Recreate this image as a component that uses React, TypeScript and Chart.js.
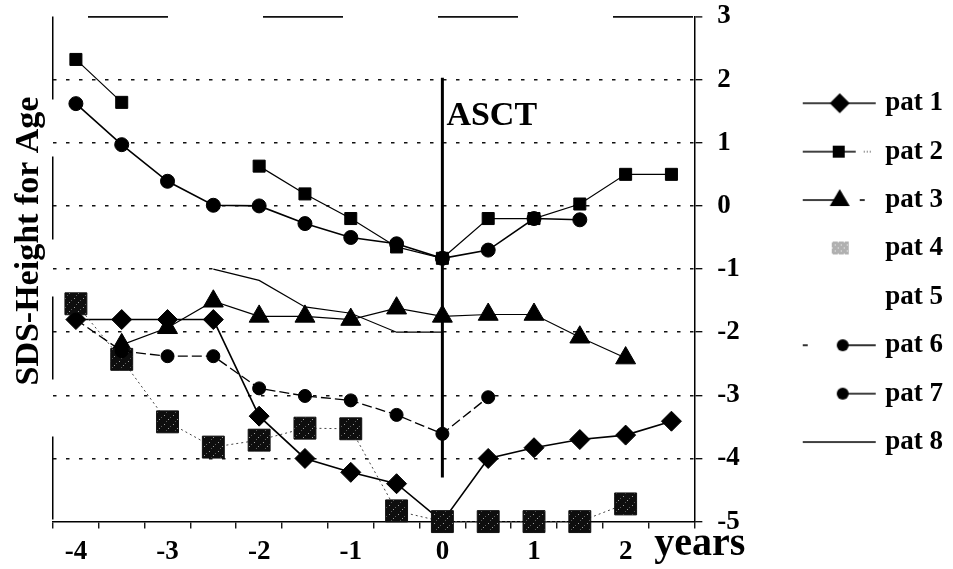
import React, { useEffect, useRef } from 'react';
import { Chart, registerables } from 'chart.js';

Chart.register(...registerables);

// ---------- data ----------
const CATEGORIES = ['-4', '-3.5', '-3', '-2.5', '-2', '-1.5', '-1', '-0.5', '0', '0.5', '1', '1.5', '2', '2.5'];
const SERIES_NAMES = ['pat 1', 'pat 2', 'pat 3', 'pat 4', 'pat 5', 'pat 6', 'pat 7', 'pat 8'];

const PAT1 = [-1.8, -1.8, -1.8, -1.8, -3.33, -4.0, -4.22, -4.4, -5.0, -4.0, -3.83, -3.7, -3.63, -3.41];
const PAT2 = [2.32, 1.64, null, null, 0.63, 0.19, -0.2, -0.65, -0.83, -0.2, -0.2, 0.03, 0.5, 0.5];
const PAT3 = [null, -2.2, -1.93, -1.51, -1.75, -1.75, -1.8, -1.62, -1.75, -1.72, -1.72, -2.08, -2.41, null];
const PAT4 = [-1.55, -2.43, -3.42, -3.82, -3.71, -3.52, -3.53, -4.83, -5.0, -5.0, -5.0, -5.0, -4.72, null];
const PAT5 = [null, null, null, null, null, null, null, null, null, null, null, null, null, null];
const PAT6 = [-1.8, -2.3, -2.38, -2.38, -2.89, -3.01, -3.08, -3.31, -3.61, -3.03, null, null, null, null];
const PAT7 = [1.62, 0.97, 0.39, 0.01, 0.0, -0.28, -0.5, -0.6, -0.83, -0.7, -0.2, -0.22, null, null];
const PAT8 = [null, null, null, -1.0, -1.18, -1.6, -1.7, -2.0, -2.0, null, null, null, null, null];

const Y_MIN = -5;
const Y_MAX = 3;
const ASCT_CATEGORY = '0';
const ASCT_TOP = 2.03;
const ASCT_BOTTOM = -4.3;
const ASCT_LABEL = 'ASCT';
const ASCT_LABEL_Y = 1.28;
const Y_TITLE = 'SDS-Height for Age';
const X_TITLE = 'years';

const FONT = "'Liberation Serif', 'Times New Roman', serif";

function makeGlyph(kind: number): HTMLCanvasElement {
  const c = document.createElement('canvas');
  c.width = 76;
  c.height = 30;
  const g = c.getContext('2d') as CanvasRenderingContext2D;
  const cy = 15;
  g.strokeStyle = '#000';
  g.fillStyle = '#000';
  g.lineWidth = 1.6;
  const line = (a: number, b: number, dash: number[] = []) => {
    g.setLineDash(dash);
    g.beginPath();
    g.moveTo(a, cy);
    g.lineTo(b, cy);
    g.stroke();
    g.setLineDash([]);
  };
  const circle = (x: number, r: number) => {
    g.beginPath();
    g.arc(x, cy, r, 0, Math.PI * 2);
    g.fill();
  };
  switch (kind) {
    case 0: {
      line(1, 74);
      g.beginPath();
      g.moveTo(38, cy - 10);
      g.lineTo(48, cy);
      g.lineTo(38, cy + 10);
      g.lineTo(28, cy);
      g.closePath();
      g.fill();
      break;
    }
    case 1: {
      line(1, 54);
      g.fillRect(31, cy - 6, 12, 12);
      g.lineWidth = 1;
      line(62, 70, [1, 2]);
      break;
    }
    case 2: {
      line(1, 36);
      g.beginPath();
      g.moveTo(38, cy - 11);
      g.lineTo(48, cy + 6);
      g.lineTo(28, cy + 6);
      g.closePath();
      g.fill();
      line(58, 63);
      break;
    }
    case 3: {
      g.fillStyle = '#b0b0b0';
      g.fillRect(30, cy - 7, 17, 13);
      g.fillStyle = '#fff';
      for (let i = 0; i < 17; i += 3) {
        for (let j = 0; j < 13; j += 3) {
          if ((i + j) % 2 === 0) g.fillRect(30 + i, cy - 7 + j, 1, 1);
        }
      }
      break;
    }
    case 4:
      break;
    case 5: {
      line(1, 6);
      circle(41, 6);
      line(46, 74);
      break;
    }
    case 6: {
      circle(41, 6);
      line(41, 74);
      break;
    }
    default: {
      g.lineWidth = 1.3;
      line(1, 74);
    }
  }
  return c;
}

function makeStipple(): CanvasPattern | string {
  const pc = document.createElement('canvas');
  pc.width = 9;
  pc.height = 9;
  const pg = pc.getContext('2d') as CanvasRenderingContext2D;
  pg.fillStyle = '#0e0e0e';
  pg.fillRect(0, 0, 9, 9);
  pg.fillStyle = '#a0a0a0';
  pg.fillRect(2, 1, 1, 1);
  pg.fillRect(6, 5, 1, 1);
  pg.fillStyle = '#5a5a5a';
  pg.fillRect(4, 7, 1, 1);
  pg.fillRect(8, 3, 1, 1);
  const p = pg.createPattern(pc, 'repeat');
  return p || '#0e0e0e';
}

const annotationPlugin = {
  id: 'annotations',
  beforeDatasetsDraw(chart: any) {
    const { ctx } = chart;
    const xs = chart.scales.x;
    const ys = chart.scales.y;
    const px = xs.getPixelForValue(CATEGORIES.indexOf(ASCT_CATEGORY));
    ctx.save();
    ctx.strokeStyle = '#000';
    ctx.lineWidth = 3;
    ctx.beginPath();
    ctx.moveTo(px, ys.getPixelForValue(ASCT_TOP));
    ctx.lineTo(px, ys.getPixelForValue(ASCT_BOTTOM));
    ctx.stroke();
    ctx.restore();
  },
  afterDraw(chart: any) {
    const { ctx, chartArea } = chart;
    const xs = chart.scales.x;
    const ys = chart.scales.y;
    const px = xs.getPixelForValue(CATEGORIES.indexOf(ASCT_CATEGORY));
    ctx.save();
    ctx.fillStyle = '#000';
    ctx.font = `bold 34px ${FONT}`;
    ctx.textAlign = 'left';
    ctx.textBaseline = 'alphabetic';
    ctx.fillText(ASCT_LABEL, px + 4, ys.getPixelForValue(ASCT_LABEL_Y));

    ctx.font = `bold 40px ${FONT}`;
    ctx.fillText(X_TITLE, chartArea.right - 40, chartArea.bottom + 33);

    ctx.translate(29, (chartArea.top + chartArea.bottom) / 2 - 28);
    ctx.rotate(-Math.PI / 2);
    ctx.textAlign = 'center';
    ctx.textBaseline = 'middle';
    ctx.font = `bold 34px ${FONT}`;
    ctx.fillText(Y_TITLE, 0, 0);
    ctx.restore();
  },
};

export default function App() {
  const canvasRef = useRef<HTMLCanvasElement | null>(null);

  useEffect(() => {
    if (!canvasRef.current) return;
    const glyphs = SERIES_NAMES.map((_, i) => makeGlyph(i));
    const stipple = makeStipple();

    const base = {
      borderColor: '#000',
      pointBorderColor: '#000',
      pointBackgroundColor: '#000',
      pointBorderWidth: 1,
      tension: 0,
      spanGaps: false,
      clip: false as any,
    };

    const chart = new Chart(canvasRef.current, {
      type: 'line',
      data: {
        labels: CATEGORIES,
        datasets: [
          { ...base, label: SERIES_NAMES[0], data: PAT1, borderWidth: 1.6, pointStyle: 'rectRot', pointRadius: 10, order: 8 },
          { ...base, label: SERIES_NAMES[1], data: PAT2, borderWidth: 1.2, pointStyle: 'rect', pointRadius: 8.5, order: 7 },
          { ...base, label: SERIES_NAMES[2], data: PAT3, borderWidth: 1.2, pointStyle: 'triangle', pointRadius: 11.5, order: 6 },
          {
            ...base, label: SERIES_NAMES[3], data: PAT4, borderColor: '#444', borderWidth: 1, borderDash: [2, 3],
            pointStyle: 'rect', pointRadius: 15.5, pointBackgroundColor: stipple as any, pointBorderColor: '#111', order: 5,
          },
          { ...base, label: SERIES_NAMES[4], data: PAT5, borderWidth: 0, pointRadius: 0, order: 4 },
          { ...base, label: SERIES_NAMES[5], data: PAT6, borderWidth: 1.3, borderDash: [10, 4], pointStyle: 'circle', pointRadius: 6.5, order: 3 },
          { ...base, label: SERIES_NAMES[6], data: PAT7, borderWidth: 1.6, pointStyle: 'circle', pointRadius: 7, order: 2 },
          { ...base, label: SERIES_NAMES[7], data: PAT8, borderWidth: 1.2, pointRadius: 0, order: 1 },
        ] as any,
      },
      options: {
        animation: false,
        responsive: true,
        maintainAspectRatio: false,
        layout: { padding: { left: 53, top: 14, right: 0, bottom: -6 } },
        plugins: {
          tooltip: { enabled: false },
          legend: {
            position: 'right',
            fullSize: false,
            align: 'center',
            title: { display: true, text: '', font: { size: 1 }, padding: 3 },
            labels: {
              usePointStyle: true,
              pointStyleWidth: 64,
              padding: 21.4,
              color: '#000',
              font: { family: FONT, size: 27, weight: 'bold' },
              generateLabels: () =>
                SERIES_NAMES.map((name, i) => ({
                  text: name,
                  pointStyle: glyphs[i],
                  datasetIndex: i,
                  fontColor: '#000',
                  fillStyle: 'rgba(0,0,0,0)',
                  strokeStyle: 'rgba(0,0,0,0)',
                  lineWidth: 0,
                  hidden: false,
                })) as any,
            },
          },
        },
        scales: {
          x: {
            type: 'category',
            offset: true,
            grid: {
              offset: true,
              drawOnChartArea: true,
              color: (c: any) => (c.index === 0 ? '#000' : 'rgba(0,0,0,0)'),
              lineWidth: 1.5,
              tickColor: '#000',
              tickLength: 7,
              tickWidth: 1.3,
            },
            border: {
              display: true,
              color: '#000',
              width: 1.5,
              dash: (c: any) => (c.index === 0 ? [83, 57] : []),
            },
            ticks: {
              autoSkip: false,
              maxRotation: 0,
              padding: 7,
              color: '#000',
              font: { family: FONT, size: 27, weight: 'bold' },
              callback: (_v: any, index: number) => {
                const lab = CATEGORIES[index];
                return lab.includes('.') ? '' : lab;
              },
            },
          },
          y: {
            type: 'linear',
            position: 'right',
            min: Y_MIN,
            max: Y_MAX,
            afterFit: (scale: any) => {
              scale.width = 92;
              scale.paddingTop = 0;
              scale.paddingBottom = 0;
            },
            grid: {
              color: (c: any) => (c.tick && c.tick.value === Y_MIN ? 'rgba(0,0,0,0)' : '#111'),
              lineWidth: (c: any) => (c.tick && c.tick.value === Y_MAX ? 1.8 : 1.4),
              tickColor: '#000',
              tickLength: 8,
              tickWidth: 1.3,
            },
            border: {
              display: true,
              color: '#000',
              width: 1.5,
              dash: (c: any) => (c.tick && c.tick.value === Y_MAX ? [80, 95] : [3.5, 9.5]),
              dashOffset: (c: any) => (c.tick && c.tick.value === Y_MAX ? 140 : 0),
            },
            ticks: {
              stepSize: 1,
              padding: 15,
              color: '#000',
              font: { family: FONT, size: 27, weight: 'bold', lineHeight: 1.1 },
            },
          },
        },
      } as any,
      plugins: [annotationPlugin],
    });
    return () => chart.destroy();
  }, []);

  return (
    <div style={{ position: 'absolute', left: 0, top: 0, width: 953, height: 569, background: '#fff' }}>
      <canvas ref={canvasRef} />
    </div>
  );
}
